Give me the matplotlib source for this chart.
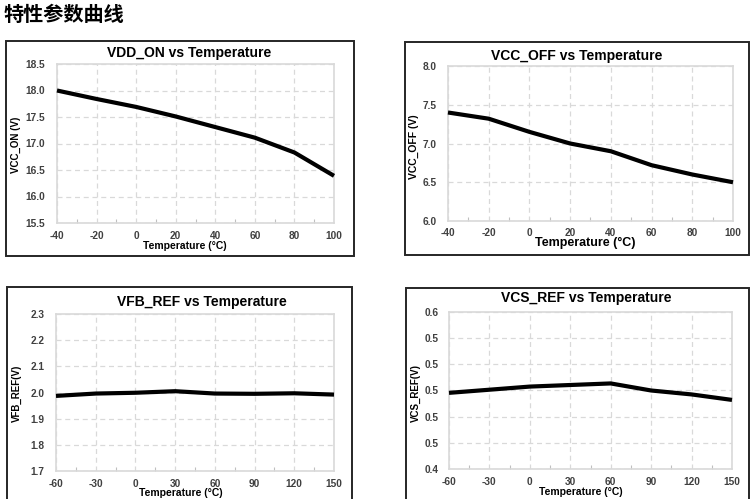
import matplotlib
matplotlib.use('Agg')
import matplotlib.pyplot as plt
from matplotlib.patches import Rectangle
from matplotlib.ticker import MultipleLocator

plt.rcParams['font.family'] = ['Liberation Sans', 'DejaVu Sans']
plt.rcParams['axes.unicode_minus'] = False

# data
temp_a = [-40, -20, 0, 20, 40, 60, 80, 100]
vdd_on = [18.0, 17.84, 17.69, 17.51, 17.31, 17.11, 16.83, 16.39]
vcc_off = [7.40, 7.32, 7.15, 7.00, 6.90, 6.72, 6.60, 6.50]

temp_b = [-60, -30, 0, 30, 60, 90, 120, 150]
vfb_ref = [1.987, 1.996, 1.999, 2.005, 1.996, 1.995, 1.997, 1.992]
vcs_ref = [0.497, 0.501, 0.505, 0.507, 0.509, 0.500, 0.495, 0.488]

vcs_ticks = [0.4, 0.4333, 0.4667, 0.5, 0.5333, 0.5667, 0.6]
vcs_labels = ['0.4', '0.5', '0.5', '0.5', '0.5', '0.5', '0.6']

W, H = 752, 499
fig = plt.figure(figsize=(W / 100, H / 100), dpi=100)


def px_axes(l, r, t, b):
    return fig.add_axes([l / W, (H - b) / H, (r - l) / W, (b - t) / H])


def box(l, r, t, b):
    fig.patches.append(Rectangle((l / W, (H - b) / H), (r - l) / W, (b - t) / H,
                                 transform=fig.transFigure, fill=False,
                                 edgecolor='#262626', linewidth=1.4, zorder=0))


def ftext(x, y, s, **kw):
    fig.text(x / W, (H - y) / H, s, ha='center', va='center', **kw)


def chart(ax, x, y, xlim, xstep, ylim, ystep, xpad=6, ypad=8.5):
    ax.plot(x, y, color='black', linewidth=3, solid_joinstyle='round',
            solid_capstyle='butt', clip_on=False, zorder=3)
    ax.set_xlim(*xlim)
    ax.set_ylim(*ylim)
    ax.xaxis.set_major_locator(MultipleLocator(xstep))
    ax.xaxis.set_minor_locator(MultipleLocator(xstep / 2))
    if ystep:
        ax.yaxis.set_major_locator(MultipleLocator(ystep))
        ax.yaxis.set_major_formatter('{x:.1f}')
    ax.grid(True, which='major', color='#d9d9d9', linestyle=(0, (4, 3)), linewidth=0.9)
    ax.set_axisbelow(True)
    for s in ax.spines.values():
        s.set_color('#d9d9d9')
        s.set_linewidth(1.2)
    ax.tick_params(axis='both', which='major', length=0, labelsize=7.3,
                   labelcolor='#404040')
    ax.tick_params(axis='x', pad=xpad)
    ax.tick_params(axis='y', pad=ypad)
    ax.tick_params(axis='x', which='minor', direction='in', length=3,
                   color='#bfbfbf', width=0.8)


# chart frames
box(6, 354, 41, 256)
box(405, 749, 42, 255)
box(7, 352, 287, 520)
box(406, 749, 288, 520)

ax1 = px_axes(57, 334, 64, 223)
chart(ax1, temp_a, vdd_on, (-40, 100), 20, (15.5, 18.5), 0.5)

ax2 = px_axes(448, 733, 66, 221)
chart(ax2, temp_a, vcc_off, (-40, 100), 20, (6.0, 8.0), 0.5, xpad=5, ypad=8)

ax3 = px_axes(56, 334, 314, 471)
chart(ax3, temp_b, vfb_ref, (-60, 150), 30, (1.7, 2.3), 0.1)

ax4 = px_axes(449, 732, 312, 469)
chart(ax4, temp_b, vcs_ref, (-60, 150), 30, (0.4, 0.6), None, ypad=7.5)
ax4.set_yticks(vcs_ticks)
ax4.set_yticklabels(vcs_labels)

for ax in (ax1, ax2, ax3, ax4):
    for lab in ax.get_xticklabels() + ax.get_yticklabels():
        lab.set_fontweight('bold')

# titles
ftext(189, 53, 'VDD_ON vs Temperature', fontsize=10, fontweight='bold')
ftext(577, 56, 'VCC_OFF vs Temperature', fontsize=10, fontweight='bold')
ftext(202, 302, 'VFB_REF vs Temperature', fontsize=10, fontweight='bold')
ftext(586, 298, 'VCS_REF vs Temperature', fontsize=10, fontweight='bold')

# axis labels
ftext(185, 246, 'Temperature (°C)', fontsize=7.5, fontweight='bold')
ftext(585, 243, 'Temperature (°C)', fontsize=9, fontweight='bold')
ftext(181, 493, 'Temperature (°C)', fontsize=7.5, fontweight='bold')
ftext(581, 492, 'Temperature (°C)', fontsize=7.5, fontweight='bold')

ftext(16, 145, 'VCC_ON (V)', fontsize=7, fontweight='bold', rotation=90)
ftext(414, 147, 'VCC_OFF (V)', fontsize=7.5, fontweight='bold', rotation=90)
ftext(17, 393, 'VFB_REF(V)', fontsize=7, fontweight='bold', rotation=90)
ftext(416, 393, 'VCS_REF(V)', fontsize=7, fontweight='bold', rotation=90)

# page heading
fig.text(4 / W, (H - 14) / H, '特性参数曲线', ha='left', va='center',
         fontsize=14.5, fontweight='bold', family=['Noto Sans CJK SC', 'DejaVu Sans'])

fig.savefig('out.png', dpi=100)
